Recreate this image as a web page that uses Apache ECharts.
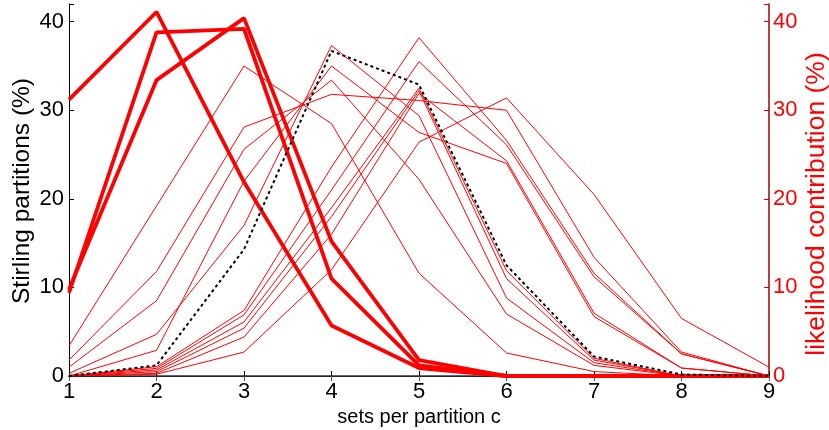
<!DOCTYPE html>
<html>
<head>
<meta charset="utf-8">
<script src="https://cdn.jsdelivr.net/npm/echarts@6/dist/echarts.min.js"></script>
<style>
  html, body { margin: 0; padding: 0; background: #fff; }
  #chart { width: 829px; height: 430px; }
</style>
</head>
<body>
<div id="chart"></div>
<script>
// x categories: sets per partition c
var sets = ["1", "2", "3", "4", "5", "6", "7", "8", "9"];
var yTicks = [0, 10, 20, 30, 40];

// Stirling partitions (%) - black dashed
var stirling = [0.005, 1.2, 14.3, 36.7, 32.9, 12.5, 2.2, 0.17, 0.005];

// likelihood contribution (%) - thick red lines
var thickA = [31.2, 41.1, 21.9, 5.7, 0.9, 0, 0, 0, 0];
var thickB = [9.4, 38.8, 39.2, 11.0, 1.2, 0, 0, 0, 0];
var thickC = [9.8, 33.4, 40.4, 15.2, 1.8, 0, 0, 0, 0];

// likelihood contribution (%) - thin red lines
var thin1 = [3.4, 19.2, 35.0, 28.5, 11.6, 2.6, 0.5, 0, 0];
var thin2 = [1.8, 11.8, 28.1, 31.8, 31.1, 30.0, 13.4, 2.7, 0];
var thin3 = [1.0, 8.5, 25.6, 33.4, 22.2, 7.0, 1.2, 0, 0];
var thin4 = [0, 2.9, 22.0, 35.0, 27.5, 24.0, 6.7, 0.9, 0];
var thin5 = [0.3, 4.7, 17.0, 37.3, 29.4, 8.8, 1.5, 0, 0];
var thin6 = [0, 1.05, 7.4, 23.6, 38.2, 26.6, 11.6, 2.5, 0];
var thin7 = [0, 0.86, 6.9, 21.0, 35.5, 26.1, 11.2, 2.5, 0];
var thin8 = [0, 0.68, 6.1, 19.0, 32.5, 11.9, 2.0, 0, 0];
var thin9 = [0, 0.49, 5.4, 18.0, 32.2, 11.0, 1.8, 0, 0];
var thin10 = [0, 0.3, 4.4, 16.0, 31.9, 24.3, 7.1, 0.9, 0];
var thin11 = [0, 0.2, 2.7, 12.0, 26.4, 31.4, 20.5, 6.5, 1.0];

var thickLines = [thickA, thickB, thickC];
var thinLines = [thin1, thin2, thin3, thin4, thin5, thin6, thin7, thin8, thin9, thin10, thin11];

var font = "Liberation Sans";
var myChart = echarts.init(document.getElementById("chart"));

var series = [];
thinLines.forEach(function (d, i) {
  series.push({
    name: "thin" + (i + 1),
    type: "line",
    yAxisIndex: 1,
    data: d,
    symbol: "none",
    lineStyle: { color: "#ff0000", width: 1 },
    z: 2
  });
});
thickLines.forEach(function (d, i) {
  series.push({
    name: "thick" + (i + 1),
    type: "line",
    yAxisIndex: 1,
    data: d,
    symbol: "none",
    lineStyle: { color: "#ff0000", width: 3.8 },
    z: 3
  });
});
series.push({
  name: "Stirling",
  type: "line",
  yAxisIndex: 0,
  data: stirling,
  symbol: "none",
  lineStyle: { color: "#000", width: 2, type: [3, 3] },
  z: 4
});

function yLabel(v) {
  return yTicks.indexOf(v) >= 0 ? String(v) : "";
}

var option = {
  backgroundColor: "#fff",
  animation: false,
  grid: { left: 69, right: 60, top: 4, bottom: 54, containLabel: false, outerBoundsMode: "none" },
  // y axis titles placed as text so they sit where the original has them
  graphic: [
    {
      type: "text",
      x: 22.5,
      y: 191,
      rotation: Math.PI / 2,
      style: {
        text: "Stirling partitions (%)",
        fontSize: 24.5,
        fontFamily: font,
        fill: "#000",
        align: "center",
        verticalAlign: "middle"
      }
    },
    {
      type: "text",
      x: 817,
      y: 204,
      rotation: Math.PI / 2,
      style: {
        text: "likelihood contribution (%)",
        fontSize: 26.5,
        fontFamily: font,
        fill: "#ff0000",
        align: "center",
        verticalAlign: "middle"
      }
    }
  ],
  xAxis: [
    {
      type: "category",
      data: sets,
      boundaryGap: false,
      position: "bottom",
      name: "sets per partition c",
      nameLocation: "middle",
      nameGap: 22,
      nameTextStyle: { color: "#000", fontSize: 20, fontFamily: font },
      axisLine: { lineStyle: { color: "#000", width: 1 } },
      axisTick: { inside: true, length: 5, lineStyle: { color: "#000" } },
      axisLabel: { color: "#000", fontSize: 22, fontFamily: font, margin: 5 },
      splitLine: { show: false }
    },
    {
      type: "category",
      data: sets,
      boundaryGap: false,
      position: "top",
      axisLine: { lineStyle: { color: "#333", width: 1.5 } },
      axisTick: { inside: true, length: 5, lineStyle: { color: "#555" } },
      axisLabel: { show: false },
      splitLine: { show: false }
    }
  ],
  yAxis: [
    {
      type: "value",
      min: 0,
      max: 42,
      interval: 10,
      position: "left",
      axisLine: { show: true, lineStyle: { color: "#000", width: 1 } },
      axisTick: { show: true, inside: true, length: 5, lineStyle: { color: "#000" } },
      axisLabel: { color: "#000", fontSize: 22, fontFamily: font, margin: 5, formatter: yLabel },
      splitLine: { show: false }
    },
    {
      type: "value",
      min: 0,
      max: 42,
      interval: 10,
      position: "right",
      axisLine: { show: true, lineStyle: { color: "#a00000", width: 1.5 } },
      axisTick: { show: true, inside: true, length: 5, lineStyle: { color: "#d00000" } },
      axisLabel: { color: "#ff0000", fontSize: 22, fontFamily: font, margin: 4, formatter: yLabel },
      splitLine: { show: false }
    }
  ],
  series: series
};
myChart.setOption(option);
</script>
</body>
</html>
